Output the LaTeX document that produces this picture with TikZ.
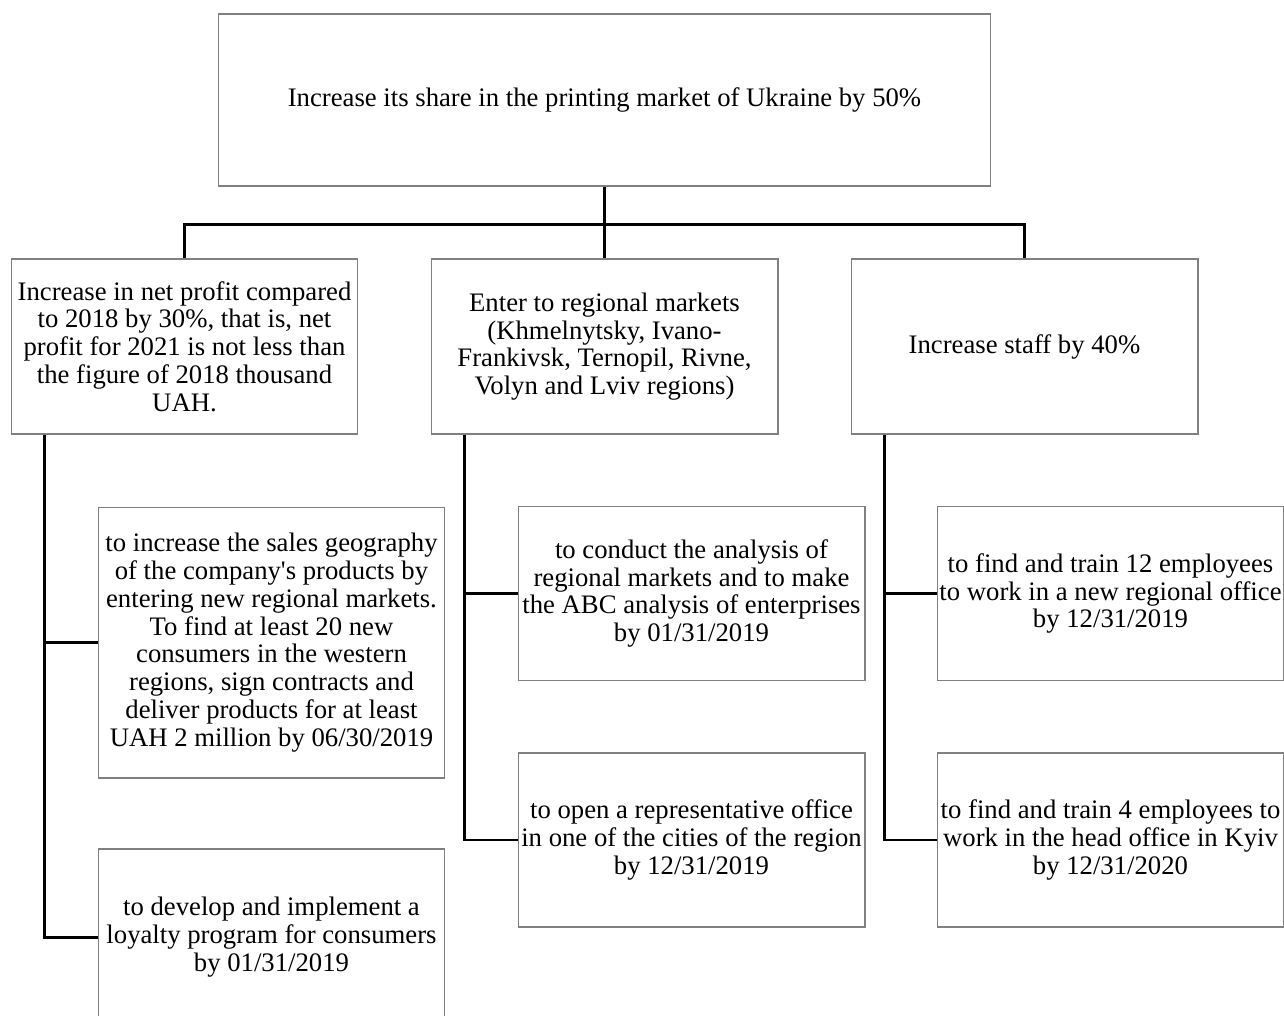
\documentclass[tikz,border=0pt]{standalone}
\usepackage{fontspec}
\setmainfont{Liberation Serif}

\tikzset{
  box/.style={draw=gray, line width=0.6pt, minimum width=6.94cm, minimum height=3.48cm,
    inner sep=0pt, align=center, font=\fontsize{15.2}{15.8}\selectfont},
  link/.style={line width=1.7pt}
}

\begin{document}
\begin{tikzpicture}[x=0.02cm, y=-0.02cm]
   \useasboundingbox (0,0) rectangle (1284,1016);

   \node[box, minimum width=15.44cm, minimum height=3.44cm] (goal) at (604.5,100)
      {Increase its share in the printing market of Ukraine by 50\%};

   \node[box, minimum height=3.5cm] (profit) at (184.5,346.5)
      {Increase in net profit compared\\to 2018 by 30\%, that is, net\\profit for 2021 is not less than\\the figure of 2018 thousand\\UAH.};
   \node[box, minimum height=3.5cm] (markets) at (604.5,346.5)
      {Enter to regional markets\\(Khmelnytsky, Ivano-\\Frankivsk, Ternopil, Rivne,\\Volyn and Lviv regions)};
   \node[box, minimum height=3.5cm] (staff) at (1024.5,346.5) {Increase staff by 40\%};

   \node[box, minimum height=5.42cm] (geo) at (271.5,642.5)
      {to increase the sales geography\\of the company\textquotesingle s products by\\entering new regional markets.\\To find at least 20 new\\consumers in the western\\regions, sign contracts and\\deliver products for at least\\UAH 2 million by 06/30/2019};
   \node[box, minimum height=3.52cm] (loyalty) at (271.5,937)
      {to develop and implement a\\loyalty program for consumers\\by 01/31/2019};

   \node[box] (abc) at (691.5,593.5)
      {to conduct the analysis of\\regional markets and to make\\the ABC analysis of enterprises\\by 01/31/2019};
   \node[box] (office) at (691.5,840)
      {to open a representative office\\in one of the cities of the region\\by 12/31/2019};

   \node[box] (train12) at (1110.5,593.5)
      {to find and train 12 employees\\to work in a new regional office\\by 12/31/2019};
   \node[box] (train4) at (1110.5,840)
      {to find and train 4 employees to\\work in the head office in Kyiv\\by 12/31/2020};

   % tree lines
   \draw[link] (goal.south) -- ++(0,38) coordinate (fork);
   \draw[link] (profit.north) |- (fork) -| (staff.north);
   \draw[link] (fork) -- (markets.north);

   \draw[link] ([xshift=0.68cm]profit.south west) |- (geo.west);
   \draw[link] ([xshift=0.68cm]profit.south west) |- (loyalty.west);
   \draw[link] ([xshift=0.68cm]markets.south west) |- (abc.west);
   \draw[link] ([xshift=0.68cm]markets.south west) |- (office.west);
   \draw[link] ([xshift=0.68cm]staff.south west) |- (train12.west);
   \draw[link] ([xshift=0.68cm]staff.south west) |- (train4.west);
\end{tikzpicture}
\end{document}
